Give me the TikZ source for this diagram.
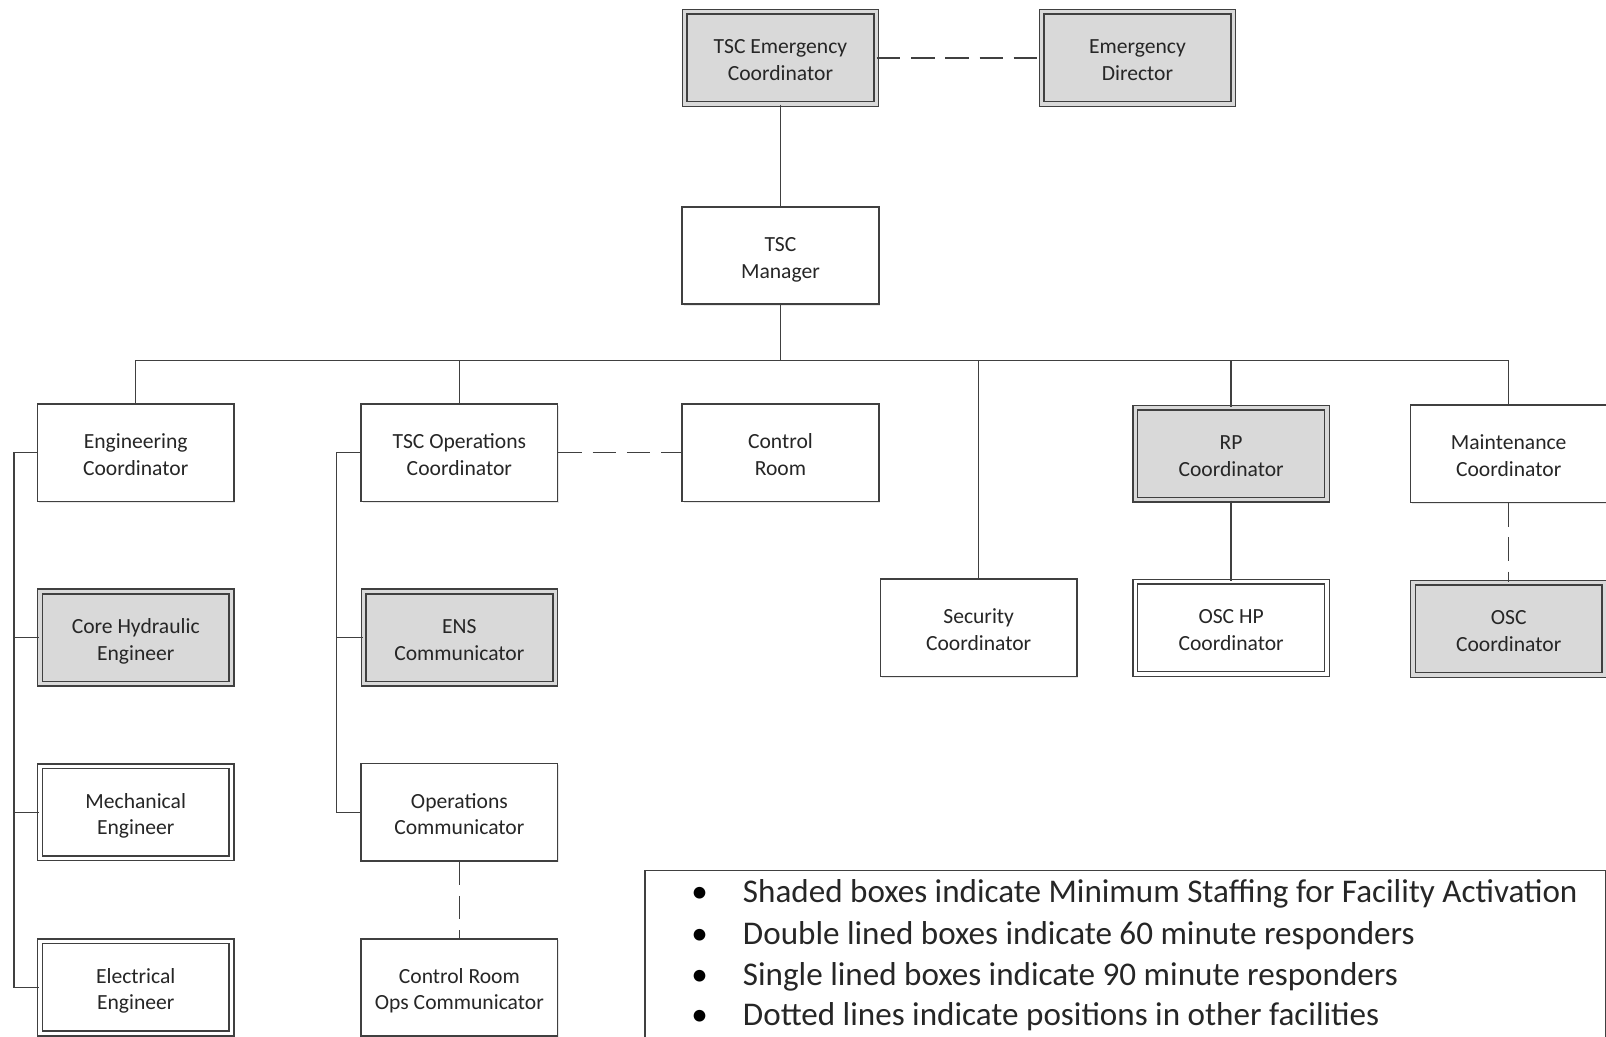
\documentclass[tikz,border=0pt]{standalone}
\usepackage{fontspec}
\setmainfont{Carlito}
\usetikzlibrary{shadows}
\definecolor{linegray}{HTML}{404040}
\definecolor{shadegray}{HTML}{D9D9D9}
\definecolor{textgray}{HTML}{262626}

\begin{document}
\begin{tikzpicture}[x=0.02cm,y=-0.02cm,
  box/.style={draw=linegray,line width=0.9pt,fill=white,text=textgray,align=center,
    minimum width=3.84cm,minimum height=1.9cm,inner sep=0pt,
    font=\fontsize{12}{14.8}\selectfont,text height=27pt,text depth=2pt,
    drop shadow={shadow xshift=0.8pt,shadow yshift=-0.8pt,fill=black!18}},
  dbox/.style={box,line width=0.8pt,double=white,double distance=1.8pt,
    minimum width=3.74cm,minimum height=1.8cm},
  sdbox/.style={dbox,fill=shadegray,double=shadegray},
  link/.style={draw=linegray,line width=0.8pt},
  other/.style={link,dash pattern=on 13pt off 6pt}]
\useasboundingbox (0,0) rectangle (1568,1012);
\clip (0,0) rectangle (1568,1012);
\node[sdbox] (tec) at (762,56.5) {TSC Emergency\\Coordinator};
\node[sdbox] (ed) at (1110.5,56.5) {Emergency\\Director};
\node[box] (mgr) at (762,249.5) {TSC\\Manager};
\node[box] (engc) at (132.5,442) {Engineering\\Coordinator};
\node[box] (opsc) at (448.5,442) {TSC Operations\\Coordinator};
\node[box] (ctrl) at (762,442) {Control\\Room};
\node[sdbox] (rpc) at (1202,443) {RP\\Coordinator};
\node[box] (mntc) at (1473,443) {Maintenance\\Coordinator};
\node[sdbox] (core) at (132.5,622.5) {Core Hydraulic\\Engineer};
\node[sdbox] (ens) at (448.5,622.5) {ENS\\Communicator};
\node[box] (secc) at (955.5,613) {Security\\Coordinator};
\node[dbox] (oschp) at (1202,613) {OSC HP\\Coordinator};
\node[sdbox] (osc) at (1473,614) {OSC\\Coordinator};
\node[dbox] (mech) at (132.5,793) {Mechanical\\Engineer};
\node[box] (opscom) at (448.5,793) {Operations\\Communicator};
\node[dbox] (elec) at (132.5,964) {Electrical\\Engineer};
\node[box] (crops) at (448.5,964) {Control Room\\Ops Communicator};
\coordinate (bus) at (762,352);
\draw[other] (tec) -- (ed);
\draw[link] (tec) -- (mgr);
\draw[link] (mgr) -- (bus);
\foreach \n in {engc,opsc,secc,rpc,mntc}
  \draw[link] (bus) -| (\n);
\draw[other] (opsc) -- (ctrl);
\draw[link] (rpc) -- (oschp);
\draw[other] (mntc) -- (osc);
\draw[other] (opscom) -- (crops);
\foreach \n in {core,mech,elec}
  \draw[link] (engc.west) -- ++(-22,0) |- (\n.west);
\foreach \n in {ens,opscom}
  \draw[link] (opsc.west) -- ++(-23,0) |- (\n.west);
% legend
\node[draw=linegray,line width=0.8pt,minimum width=18.76cm,minimum height=3.6cm,anchor=north west] (legend) at (629,849) {};
\foreach \y/\txt [count=\i] in {881/Shaded boxes indicate Minimum Staffing for Facility Activation,
    922/Double lined boxes indicate 60 minute responders,
    962/Single lined boxes indicate 90 minute responders,
    1001/Dotted lines indicate positions in other facilities}{
  \node[anchor=base,text=black,font=\fontsize{18.4}{22}\selectfont] (b\i) at (683,\y) {\textbullet};
  \node[anchor=base west,inner xsep=0pt,text=textgray,font=\fontsize{18.4}{22}\selectfont] (item\i) at (725,\y) {\txt};
}
\end{tikzpicture}
\end{document}
